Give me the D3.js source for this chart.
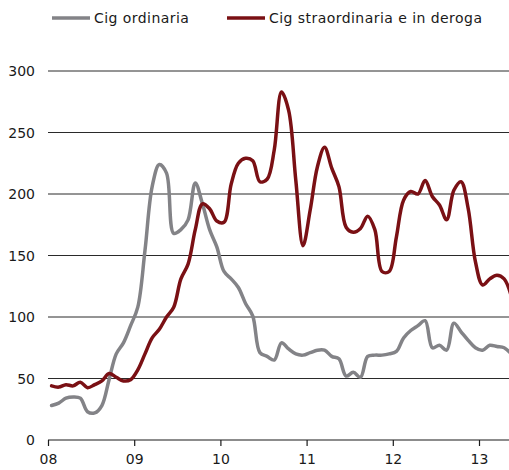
<!DOCTYPE html>
<html>
<head>
<meta charset="utf-8">
<script src="https://cdn.jsdelivr.net/npm/d3@7"></script>
<style>
  html, body { margin: 0; padding: 0; background: #fff; }
  svg { display: block; }
  text { font-family: "DejaVu Sans", Verdana, sans-serif; fill: #1a1a1a; }
</style>
</head>
<body>
<svg id="chart" width="509" height="470"></svg>
<script>
// Monthly values, Jan 2008 -> May 2013
const seriesNames = ["Cig ordinaria", "Cig straordinaria e in deroga"];
const cigOrdinaria = [
  28, 30, 34, 35, 34, 23, 22, 28, 49, 70, 79, 93,
  108, 154, 206, 224, 217, 168, 171, 179, 209, 192, 171, 157,
  137, 131, 124, 111, 101, 71, 68, 65, 79, 74, 70, 69,
  71, 73, 73, 68, 66, 52, 55, 51, 68, 69, 69, 70,
  72, 83, 89, 93, 97, 75, 77, 73, 95, 88, 81, 75,
  73, 77, 76, 75, 70
];
const cigStraordinaria = [
  44, 43, 45, 44, 47, 42.5, 45, 48, 54, 51, 48, 49,
  57, 70, 83, 90, 100, 108, 131, 143, 171, 192, 188, 178,
  177, 208, 225, 229, 227, 210, 212, 236, 283, 268, 211, 158,
  187, 222, 238, 221, 206, 173, 169, 172, 182, 171, 137, 137,
  165, 195, 202, 200, 211, 198, 191, 179, 203, 210, 188, 145,
  126, 131, 134, 131, 117
];
const yTicks = [0, 50, 100, 150, 200, 250, 300];
const xTickLabels = ["08", "09", "10", "11", "12", "13"];
const seriesColors = ["#838387", "#7a1014"];

const svg = d3.select("#chart");
const W = 509, H = 470;

const x = d3.scaleLinear().domain([0, 60]).range([48, 479]);
const y = d3.scaleLinear().domain([0, 300]).range([440, 71]);

// gridlines
svg.append("g")
  .selectAll("line")
  .data(yTicks.filter(d => d > 0))
  .join("line")
  .attr("x1", x(0)).attr("x2", W)
  .attr("y1", d => y(d)).attr("y2", d => y(d))
  .attr("stroke", "#2a2a2a").attr("stroke-width", 1);

// y labels
svg.append("g")
  .selectAll("text")
  .data(yTicks)
  .join("text")
  .attr("x", 35).attr("y", d => y(d) + 5)
  .attr("text-anchor", "end")
  .attr("font-size", 14)
  .text(d => d);

// x axis
const xAxis = d3.axisBottom(x)
  .tickValues(xTickLabels.map((_, i) => i * 12))
  .tickFormat((d, i) => xTickLabels[i])
  .tickSize(6).tickSizeOuter(0);
const gx = svg.append("g").attr("transform", `translate(0,${y(0)})`).call(xAxis);
gx.select(".domain").remove();
gx.append("line").attr("x1", x(0)).attr("x2", W).attr("y1", 0).attr("y2", 0)
  .attr("stroke", "#1a1a1a").attr("stroke-width", 1.2);
gx.selectAll(".tick line").attr("stroke", "#1a1a1a").attr("stroke-width", 1.2);
gx.selectAll(".tick text")
  .attr("font-family", "DejaVu Sans, Verdana, sans-serif")
  .attr("font-size", 14).attr("fill", "#1a1a1a").attr("dy", "1.05em");

// lines
const line = d3.line()
  .x((d, i) => x(i + 0.5))
  .y(d => y(d))
  .curve(d3.curveCatmullRom.alpha(0.5));

[cigOrdinaria, cigStraordinaria].forEach((s, k) => {
  svg.append("path")
    .datum(s)
    .attr("d", line)
    .attr("fill", "none")
    .attr("stroke", seriesColors[k])
    .attr("stroke-width", 3.5)
    .attr("stroke-linejoin", "round")
    .attr("stroke-linecap", "round");
});

// legend
const legendX = [52, 227];
seriesNames.forEach((name, k) => {
  const g = svg.append("g").attr("transform", `translate(${legendX[k]},18)`);
  g.append("line").attr("x1", 0).attr("x2", 38).attr("y1", 0).attr("y2", 0)
    .attr("stroke", seriesColors[k]).attr("stroke-width", 3.5);
  g.append("text").attr("x", 42).attr("y", 5).attr("font-size", 14)
    .attr("letter-spacing", "0.45px").text(name);
});
</script>
</body>
</html>
